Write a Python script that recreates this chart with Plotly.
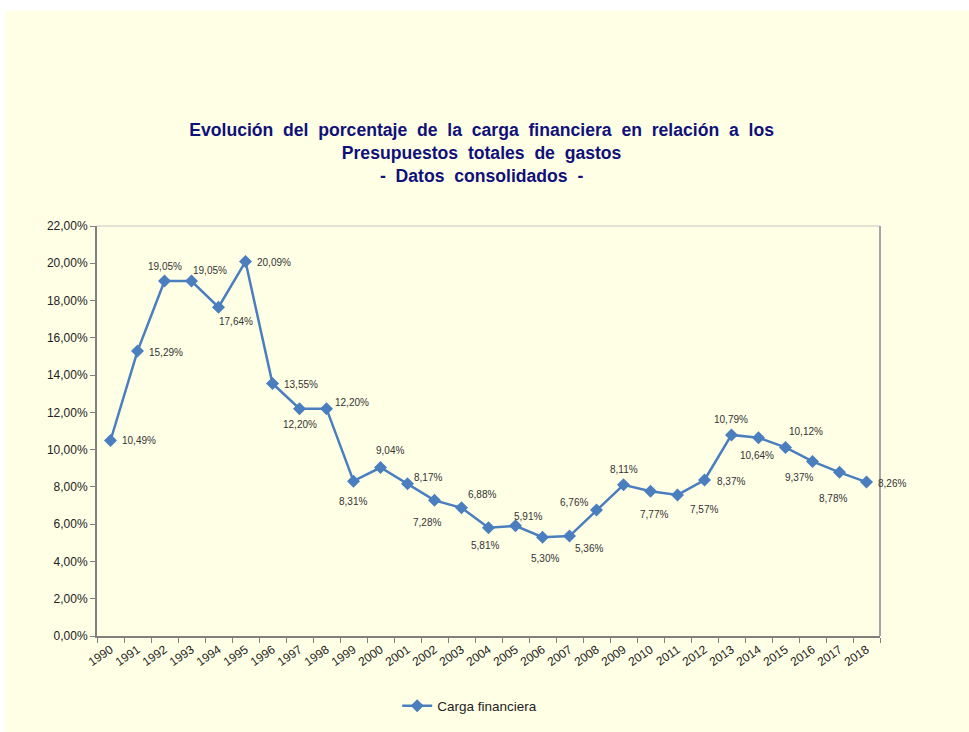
import plotly.graph_objects as go

years = [str(y) for y in range(1990, 2019)]
carga = [10.49, 15.29, 19.05, 19.05, 17.64, 20.09, 13.55, 12.20, 12.20, 8.31,
         9.04, 8.17, 7.28, 6.88, 5.81, 5.91, 5.30, 5.36, 6.76, 8.11,
         7.77, 7.57, 8.37, 10.79, 10.64, 10.12, 9.37, 8.78, 8.26]
y_ticks = [0, 2, 4, 6, 8, 10, 12, 14, 16, 18, 20, 22]
y_tick_text = [f"{v:.2f}%".replace(".", ",") for v in y_ticks]

# label offsets from each marker, in pixels (style only)
label_dx = [28, 28, 0, 18, 17, 28, 28, 0, 25, -1, 9, 20, -8, 20, -4, 12, 2, 19, -23, 0,
            3, 26, 26, -1, -2, 20, -14, -7, 25]
label_dy = [0, 1, -14, -10, 14, 1, 1, 16, -6, 20, -17, -6, 22, -13, 18, -9, 21, 12, -8, -15,
            23, 15, 1, -15, 18, -16, 16, 26, 1]

BG = "#FFFFE6"
LINE = "#4A7EBF"
FONT = "Liberation Sans, Arial, sans-serif"

fig = go.Figure()
fig.add_trace(go.Scatter(
    x=years, y=carga, mode="lines+markers", name="Carga financiera",
    line=dict(color=LINE, width=2.5),
    marker=dict(symbol="diamond", size=10, color=LINE),
    cliponaxis=False,
))

# category axis: annotations use the category index
for i, (v, dx, dy) in enumerate(zip(carga, label_dx, label_dy)):
    fig.add_annotation(x=i, y=v, text=f"{v:.2f}%".replace(".", ","), showarrow=False,
                       xanchor="center", yanchor="middle", xshift=dx, yshift=-dy,
                       font=dict(family=FONT, size=10, color="#333333"))

L, R, T, B = 97, 89, 226, 95
W, H = 969, 732
pw, ph = W - L - R, H - T - B

fig.add_shape(type="rect", xref="paper", yref="paper", layer="below",
              x0=(5 - L) / pw, x1=(W - L) / pw + 0.01, y0=-(B) / ph - 0.01, y1=(H - B - 10) / ph,
              fillcolor=BG, line=dict(width=0))
fig.add_shape(type="line", xref="paper", yref="paper", x0=0, x1=1, y0=1, y1=1,
              line=dict(color="#C4C4C4", width=1))
fig.add_shape(type="line", xref="paper", yref="paper", x0=1, x1=1, y0=0, y1=1,
              line=dict(color="#A6A6A6", width=2))

fig.update_layout(
    width=W, height=H,
    margin=dict(l=L, r=R, t=T, b=B),
    paper_bgcolor="white", plot_bgcolor=BG,
    separators=",.",
    font=dict(family=FONT, color="#222222"),
    title=dict(
        text="Evolución  del  porcentaje  de  la  carga  financiera  en  relación  a  los<br>"
             "Presupuestos  totales  de  gastos<br>-  Datos  consolidados  -",
        x=0.497, xref="container", xanchor="center",
        y=1 - 136 / H, yref="container", yanchor="top",
        font=dict(family=FONT, size=17.6, color="#10107A", weight="bold"),
    ),
    xaxis=dict(
        type="category", tickson="boundaries", ticks="outside", ticklen=5,
        tickcolor="#808080", showline=True, linecolor="#808080", linewidth=2,
        showgrid=False, tickangle=-35, tickfont=dict(size=12, color="#222222"),
        range=[-0.5, len(years) - 0.5],
    ),
    yaxis=dict(
        range=[0, 22], tickvals=y_ticks, ticktext=y_tick_text,
        ticks="outside", ticklen=5, tickcolor="#808080",
        showline=True, linecolor="#808080", linewidth=2, showgrid=False,
        zeroline=False, tickfont=dict(size=12, color="#222222"),
    ),
    showlegend=True,
    legend=dict(orientation="h", x=0.476, xanchor="center", y=-0.168, yanchor="middle",
                itemwidth=30,
                font=dict(size=13.5, color="#222222"), bgcolor="rgba(0,0,0,0)"),
)

fig.write_html("out.html", config={"displayModeBar": False},
               post_script="document.body.style.margin='0';")
